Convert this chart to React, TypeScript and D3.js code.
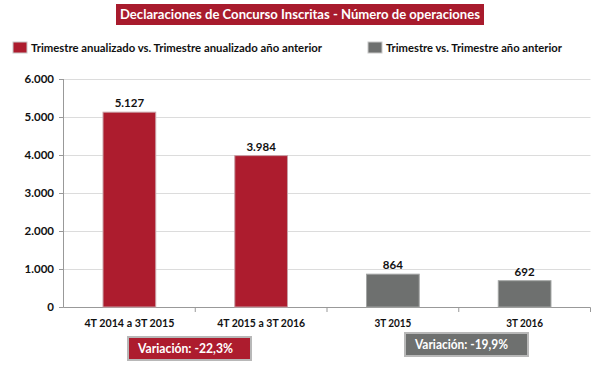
import React from "react";
import * as d3 from "d3";

const categories = ["4T 2014 a 3T 2015", "4T 2015 a 3T 2016", "3T 2015", "3T 2016"];
const values = [5127, 3984, 864, 692];
const seriesOf = ["anual", "anual", "trim", "trim"];
const yTicks = [0, 1000, 2000, 3000, 4000, 5000, 6000];
const legendLabels = ["Trimestre anualizado vs. Trimestre anualizado año anterior", "Trimestre vs. Trimestre año anterior"];
const variationLabels = ["Variación:  -22,3%", "Variación: -19,9%"];
const title = "Declaraciones de Concurso Inscritas - Número de operaciones";

const RED = "#AD1C2E";
const GRAY = "#6E706F";
const FONT = "Lato, 'Open Sans', sans-serif";

const fmt = (v: number) => d3.format(",")(v).replace(/,/g, ".");

export default function App() {
  const W = 600, H = 365;
  const x = d3.scaleBand<string>().domain(categories).range([63.5, 590.5]).paddingInner(0.6).paddingOuter(0.3);
  const xb = d3.scaleBand<string>().domain(categories).range([63.5, 590.5]);
  const y = d3.scaleLinear().domain([0, 6000]).range([307, 79]);
  const color = (s: string) => (s === "anual" ? RED : GRAY);
  const stroke = (s: string) => (s === "anual" ? "#c9a0a6" : "#a3a5a4");
  const catLen = [90, 88, 37, 37];

  return (
    <svg width={W} height={H} style={{ position: "absolute", left: 0, top: 0, fontFamily: FONT }}>
      <rect width={W} height={H} fill="#fff" />
      <rect x={116} y={4} width={368} height={21} fill="#A81B2D" />
      <text x={120} y={19} fill="#fff" fontWeight="bold" fontSize={14} textLength={360} lengthAdjust="spacingAndGlyphs">{title}</text>

      <rect x={13} y={42} width={14} height={11} fill={RED} stroke="#c8c8c8" strokeWidth={1} />
      <text x={31} y={51.5} fontSize={11.5} fontWeight="bold" fill="#111" textLength={291} lengthAdjust="spacingAndGlyphs">{legendLabels[0]}</text>
      <rect x={368} y={42} width={14} height={11} fill={GRAY} stroke="#c8c8c8" strokeWidth={1} />
      <text x={386} y={51.5} fontSize={11.5} fontWeight="bold" fill="#111" textLength={176} lengthAdjust="spacingAndGlyphs">{legendLabels[1]}</text>

      {yTicks.map((t) => (
        <g key={t}>
          {t > 0 && <line x1={63.5} x2={590.5} y1={Math.round(y(t)) + 0.5} y2={Math.round(y(t)) + 0.5} stroke="#dcdcdc" />}
          <line x1={59} x2={63.5} y1={Math.round(y(t)) + 0.5} y2={Math.round(y(t)) + 0.5} stroke="#999" />
          <text x={54} y={y(t) + 4} textAnchor="end" fontSize={11.5} fontWeight="bold" fill="#111">{fmt(t)}</text>
        </g>
      ))}
      <line x1={63.5} x2={63.5} y1={79} y2={307.5} stroke="#999" />
      <line x1={63.5} x2={590.5} y1={307.5} y2={307.5} stroke="#999" />
      {categories.map((c, i) => (
        <line key={"tk" + i} x1={(xb(c) as number) + xb.bandwidth()} x2={(xb(c) as number) + xb.bandwidth()} y1={307.5} y2={312} stroke="#999" />
      ))}

      {categories.map((c, i) => (
        <g key={c}>
          <rect x={x(c)} y={y(values[i])} width={x.bandwidth()} height={y(0) - y(values[i])} fill={color(seriesOf[i])} stroke={stroke(seriesOf[i])} strokeWidth={1} />
          <text x={(x(c) as number) + x.bandwidth() / 2} y={y(values[i]) - 5} textAnchor="middle" fontSize={11.5} fontWeight="bold" fill="#111">{fmt(values[i])}</text>
          <text x={(x(c) as number) + x.bandwidth() / 2} y={327} textAnchor="middle" fontSize={11.5} fontWeight="bold" fill="#111" textLength={catLen[i]} lengthAdjust="spacingAndGlyphs">{c}</text>
        </g>
      ))}

      <rect x={128} y={337} width={123} height={23} fill={RED} stroke="#b8b8b8" strokeWidth={2} />
      <text x={138} y={353} fill="#fff" fontSize={13.5} fontWeight="bold" textLength={95} lengthAdjust="spacingAndGlyphs">{variationLabels[0]}</text>
      <rect x={405} y={333} width={123} height={23} fill={GRAY} stroke="#b8b8b8" strokeWidth={2} />
      <text x={415} y={349} fill="#fff" fontSize={13.5} fontWeight="bold" textLength={93} lengthAdjust="spacingAndGlyphs">{variationLabels[1]}</text>
    </svg>
  );
}
